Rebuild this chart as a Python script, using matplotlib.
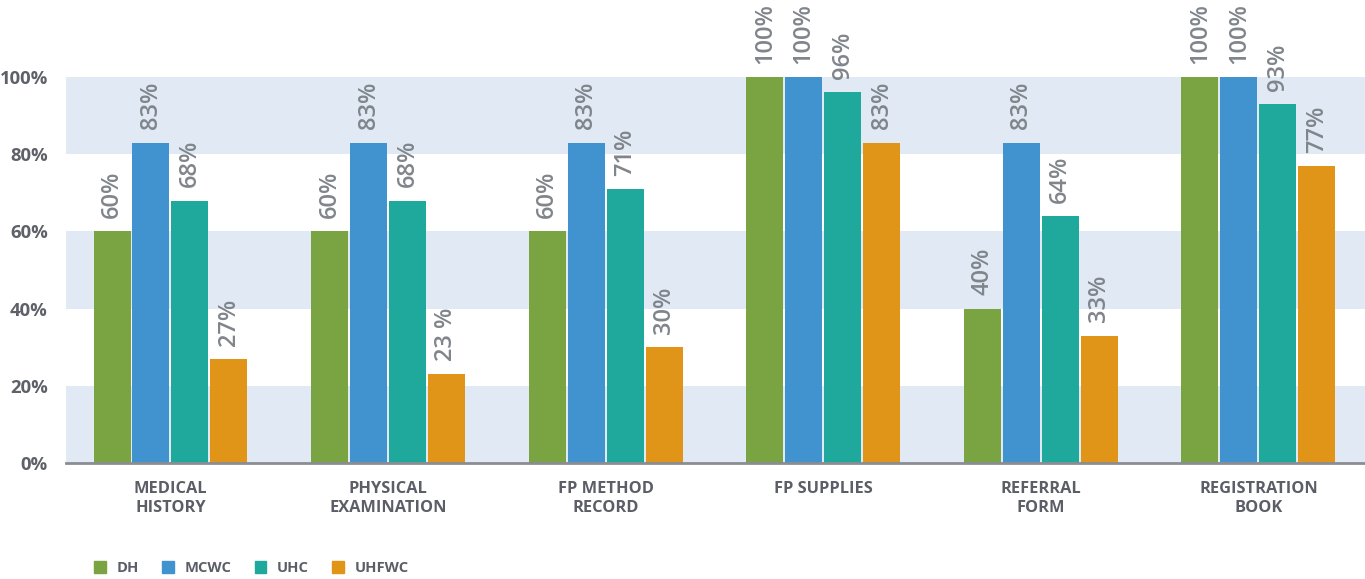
import numpy as np
import matplotlib.pyplot as plt
from matplotlib.patches import Patch

plt.rcParams['font.family'] = ['Open Sans', 'DejaVu Sans']

categories = ["MEDICAL\nHISTORY", "PHYSICAL\nEXAMINATION", "FP METHOD\nRECORD",
              "FP SUPPLIES", "REFERRAL\nFORM", "REGISTRATION\nBOOK"]
series = ["DH", "MCWC", "UHC", "UHFWC"]
dh = [60, 60, 60, 100, 40, 100]
mcwc = [83, 83, 83, 100, 83, 100]
uhc = [68, 68, 71, 96, 64, 93]
uhfwc = [27, 23, 30, 83, 33, 77]
labels = [
    ["60%", "60%", "60%", "100%", "40%", "100%"],
    ["83%", "83%", "83%", "100%", "83%", "100%"],
    ["68%", "68%", "71%", "96%", "64%", "93%"],
    ["27%", "23 %", "30%", "83%", "33%", "77%"],
]
colors = ["#7aa342", "#4193cf", "#1fa99c", "#e09518"]
values = [dh, mcwc, uhc, uhfwc]

fig = plt.figure(figsize=(13.65, 5.79), dpi=100)
ax = fig.add_axes([66 / 1365, 1 - 463 / 579, 1 - 66 / 1365, (463 - 77) / 579])

# alternating horizontal bands
for lo in (0, 40, 80):
    ax.axhspan(lo, lo + 20, color="#e1eaf4", zorder=0, lw=0)

x = np.arange(len(categories))
w = 0.17
step = 0.179
for i, (vals, col) in enumerate(zip(values, colors)):
    pos = x + (i - 1.5) * step
    ax.bar(pos, vals, width=w, color=col, zorder=2)
    for p, v, t in zip(pos, vals, labels[i]):
        ax.text(p, v + 3.4, t, rotation=90, ha="center", va="bottom",
                fontsize=17, fontweight="semibold", color="#80858b",
                clip_on=False, zorder=3)

ax.set_xlim(-0.48, 5.49)
ax.set_ylim(0, 100)
ax.set_yticks([0, 20, 40, 60, 80, 100])
ax.set_yticklabels([f"{t}%" for t in [0, 20, 40, 60, 80, 100]],
                   fontsize=13.3, fontweight="bold", color="#5f6168")
ax.set_xticks(x)
ax.set_xticklabels(categories, fontsize=11.8, fontweight="bold", color="#5b5e66",
                   linespacing=1.25)
ax.tick_params(axis="both", length=0)
ax.tick_params(axis="x", pad=13)
ax.tick_params(axis="y", pad=13)
for s in ["top", "right", "left"]:
    ax.spines[s].set_visible(False)
ax.spines["bottom"].set_color("#8a8d93")
ax.spines["bottom"].set_linewidth(2)
ax.spines["bottom"].set_zorder(4)

handles = [Patch(color=c, label=s) for c, s in zip(colors, series)]
fig.legend(handles=handles, loc="center left", bbox_to_anchor=(0.069, 1 - 568 / 579),
           ncol=4, frameon=False, handlelength=0.8, handleheight=0.8,
           handletextpad=0.7, columnspacing=1.6, borderaxespad=0, borderpad=0,
           prop={"weight": "bold", "size": 10.6}, labelcolor="#5b5e66")

fig.savefig("out.png", dpi=100)
